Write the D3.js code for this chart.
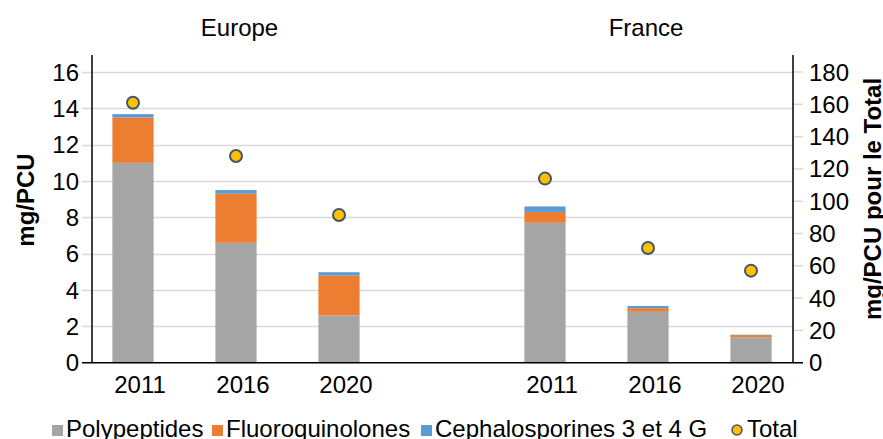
<!DOCTYPE html>
<html>
<head>
<meta charset="utf-8">
<script src="https://cdn.jsdelivr.net/npm/d3@7"></script>
<style>
  body { margin: 0; background: #fff; }
  svg { font-family: Arial, "Liberation Sans", sans-serif; }
</style>
</head>
<body>
<svg width="883" height="439"></svg>
<script>
const [WIDTH, HEIGHT] = [883, 439];

// data
const categories = ["E2011", "E2016", "E2020", "gap", "F2011", "F2016", "F2020"];
const yearLabels = ["2011", "2016", "2020", "", "2011", "2016", "2020"];
const polypeptides = [11.0, 6.6, 2.6, null, 7.7, 2.8, 1.4];
const fluoroquinolones = [2.5, 2.7, 2.2, null, 0.6, 0.2, 0.12];
const cephalosporines = [0.18, 0.2, 0.18, null, 0.3, 0.12, 0.02];
const totals = [161, 128, 91.5, null, 114, 71, 57];
const groupTitles = ["Europe", "France"];
const leftTicks = [0, 2, 4, 6, 8, 10, 12, 14, 16];
const rightTicks = [0, 20, 40, 60, 80, 100, 120, 140, 160, 180];
const seriesNames = ["Polypeptides", "Fluoroquinolones", "Cephalosporines 3 et 4 G"];
const seriesColors = ["#A5A5A5", "#ED7D31", "#5B9BD5"];

const X_LEFT = 92, X_RIGHT = 793, Y_BASE = 362.7, Y_TOP = 55;

const svg = d3.select("svg");

const x = d3.scaleBand()
  .domain(categories)
  .range([81.5, 802.5])
  .paddingInner(0.6)
  .paddingOuter(0.3);

const yLeft = d3.scaleLinear().domain([0, 16]).range([Y_BASE, 72]);
const yRight = d3.scaleLinear().domain([0, 180]).range([Y_BASE, 72]);

// gridlines + left ticks
svg.append("g")
  .selectAll("line")
  .data(leftTicks.filter((d) => d > 0))
  .enter()
  .append("line")
  .attr("x1", 82)
  .attr("x2", X_RIGHT)
  .attr("y1", (d) => Math.round(yLeft(d)) + 0.5)
  .attr("y2", (d) => Math.round(yLeft(d)) + 0.5)
  .attr("stroke", "#D9D9D9")
  .attr("stroke-width", 1.5);

svg.append("g")
  .selectAll("text")
  .data(leftTicks)
  .enter()
  .append("text")
  .attr("x", 79)
  .attr("y", (d) => yLeft(d) + 8.5)
  .attr("text-anchor", "end")
  .attr("font-size", 24)
  .attr("fill", "#000")
  .text((d) => d);

// right ticks
svg.append("g")
  .selectAll("line")
  .data(rightTicks)
  .enter()
  .append("line")
  .attr("x1", X_RIGHT)
  .attr("x2", 803)
  .attr("y1", (d) => yRight(d))
  .attr("y2", (d) => yRight(d))
  .attr("stroke", "#D9D9D9")
  .attr("stroke-width", 1.5);

svg.append("g")
  .selectAll("text")
  .data(rightTicks)
  .enter()
  .append("text")
  .attr("x", 809)
  .attr("y", (d) => yRight(d) + 8.5)
  .attr("font-size", 24)
  .attr("fill", "#000")
  .text((d) => d);

// stacked bars
const rows = categories.map((c, i) => ({
  cat: c,
  poly: polypeptides[i],
  fluoro: fluoroquinolones[i],
  ceph: cephalosporines[i],
}));
const stack = d3.stack().keys(["poly", "fluoro", "ceph"]);
const layers = stack(rows.filter((r) => r.poly !== null));

svg.append("g")
  .selectAll("g")
  .data(layers)
  .enter()
  .append("g")
  .attr("fill", (d, i) => seriesColors[i])
  .selectAll("rect")
  .data((d) => d)
  .enter()
  .append("rect")
  .attr("x", (d) => x(d.data.cat))
  .attr("width", x.bandwidth())
  .attr("y", (d) => yLeft(d[1]))
  .attr("height", (d) => yLeft(d[0]) - yLeft(d[1]));

// axes lines
svg.append("line")
  .attr("x1", X_LEFT).attr("x2", X_LEFT)
  .attr("y1", Y_TOP).attr("y2", Y_BASE)
  .attr("stroke", "#000").attr("stroke-width", 1.5);
svg.append("line")
  .attr("x1", X_RIGHT).attr("x2", X_RIGHT)
  .attr("y1", Y_TOP).attr("y2", Y_BASE)
  .attr("stroke", "#000").attr("stroke-width", 1.5);
svg.append("line")
  .attr("x1", 82).attr("x2", 803)
  .attr("y1", Y_BASE).attr("y2", Y_BASE)
  .attr("stroke", "#000").attr("stroke-width", 1.5);

// total dots
svg.append("g")
  .selectAll("circle")
  .data(categories.map((c, i) => ({ cat: c, v: totals[i] })).filter((d) => d.v !== null))
  .enter()
  .append("circle")
  .attr("cx", (d) => x(d.cat) + x.bandwidth() / 2)
  .attr("cy", (d) => yRight(d.v))
  .attr("r", 6)
  .attr("fill", "#FFC000")
  .attr("stroke", "#44546A")
  .attr("stroke-width", 2);

// category labels
svg.append("g")
  .selectAll("text")
  .data(categories)
  .enter()
  .append("text")
  .attr("x", (d) => x(d) + x.bandwidth() / 2 + 7)
  .attr("y", 393)
  .attr("text-anchor", "middle")
  .attr("font-size", 24)
  .text((d, i) => yearLabels[i]);

// group titles
svg.append("g")
  .selectAll("text")
  .data(groupTitles)
  .enter()
  .append("text")
  .attr("x", (d, i) => [239.5, 646][i])
  .attr("y", 36)
  .attr("text-anchor", "middle")
  .attr("font-size", 24)
  .text((d) => d);

// axis titles
svg.append("text")
  .attr("transform", "translate(34,200) rotate(-90)")
  .attr("text-anchor", "middle")
  .attr("font-size", 24)
  .attr("font-weight", "bold")
  .text("mg/PCU");
svg.append("text")
  .attr("transform", "translate(881,199) rotate(-90)")
  .attr("text-anchor", "middle")
  .attr("font-size", 24)
  .attr("font-weight", "bold")
  .text("mg/PCU pour le Total");

// legend
const legend = svg.append("g");
const legendX = [52, 212, 421];
seriesNames.forEach((name, i) => {
  legend.append("rect")
    .attr("x", legendX[i]).attr("y", 425)
    .attr("width", 11).attr("height", 11)
    .attr("fill", seriesColors[i]);
  legend.append("text")
    .attr("x", legendX[i] + 14).attr("y", 437)
    .attr("font-size", 24)
    .text(name);
});
legend.append("circle")
  .attr("cx", 737).attr("cy", 430)
  .attr("r", 5)
  .attr("fill", "#FFC000")
  .attr("stroke", "#44546A")
  .attr("stroke-width", 1.5);
legend.append("text")
  .attr("x", 747).attr("y", 437)
  .attr("font-size", 24)
  .text("Total");
</script>
</body>
</html>
